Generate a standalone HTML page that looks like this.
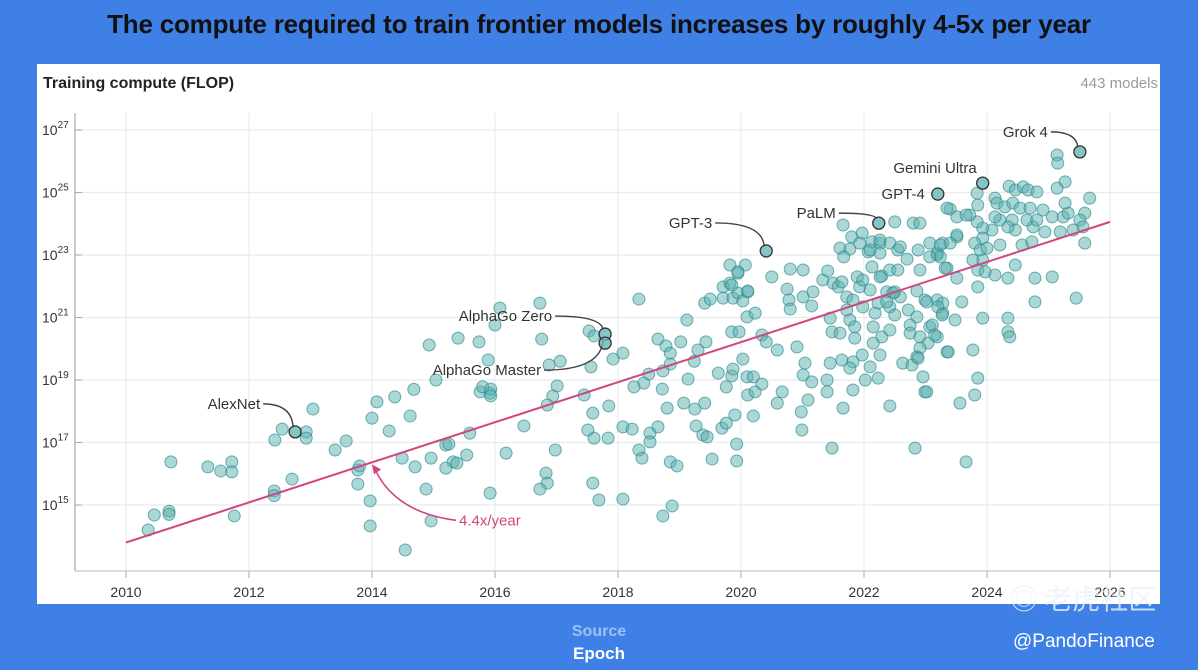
<!DOCTYPE html>
<html><head><meta charset="utf-8">
<style>
html,body{margin:0;padding:0;}
body{width:1198px;height:670px;background:#3f80e6;font-family:"Liberation Sans","Noto Sans CJK SC",sans-serif;position:relative;overflow:hidden;}
#title{position:absolute;left:0;width:1198px;top:9px;text-align:center;font-size:26px;font-weight:bold;color:#111;letter-spacing:-0.2px;}
#panel{position:absolute;left:37px;top:64px;width:1123px;height:540px;background:#fff;}
svg{position:absolute;left:0;top:0;}
.src{position:absolute;width:1198px;left:0;text-align:center;font-weight:bold;font-size:16px;}
</style></head>
<body>
<div id="title">The compute required to train frontier models increases by roughly 4-5x per year</div>
<div id="panel"></div>
<svg id="chart" width="1198" height="670"></svg>
<div class="src" style="top:623px;color:#9cc0f2;">Source</div>
<div class="src" style="top:644px;color:#fff;font-size:17px;">Epoch</div>
<div style="position:absolute;left:1010px;top:580px;font-size:28px;line-height:36px;color:rgba(235,240,250,0.8);font-family:'Noto Sans CJK SC',sans-serif;z-index:5;">◎ 老虎社区</div>
<div style="position:absolute;left:1013px;top:631px;font-size:19px;color:#fff;">@PandoFinance</div>
<script>
const yearTicks=[2010,2012,2014,2016,2018,2020,2022,2024,2026];
const flopTicks=[15,17,19,21,23,25,27];
const years=[2010.36,2010.46,2010.70,2010.70,2010.73,2011.33,2011.54,2011.72,2011.72,2011.76,2012.41,2012.41,2012.42,2012.54,2012.70,2012.75,2012.93,2012.93,2013.04,2013.40,2013.58,2013.77,2013.77,2013.80,2013.97,2013.97,2014.0,2014.08,2014.28,2014.37,2014.49,2014.54,2014.62,2014.68,2014.70,2014.88,2014.96,2014.96,2014.93,2015.04,2015.20,2015.32,2015.40,2015.54,2015.76,2015.92,2015.89,2015.92,2016.0,2016.08,2015.59,2015.25,2015.38,2015.20,2015.74,2015.80,2015.93,2015.93,2016.18,2016.47,2016.73,2016.76,2016.88,2017.06,2017.01,2016.94,2016.85,2016.98,2016.83,2016.85,2016.73,2017.59,2017.69,2018.08,2017.53,2017.61,2017.79,2017.79,2017.56,2017.92,2018.08,2017.45,2017.59,2017.85,2017.51,2017.61,2017.84,2018.08,2018.23,2018.34,2018.39,2018.52,2018.52,2018.65,2018.34,2018.65,2018.78,2018.85,2018.85,2018.73,2018.50,2018.42,2018.26,2018.72,2018.80,2018.85,2018.96,2018.73,2018.88,2019.02,2019.12,2019.07,2019.25,2019.41,2019.14,2019.24,2019.30,2019.43,2019.27,2019.38,2019.45,2019.53,2019.69,2019.76,2019.90,2019.93,2019.93,2020.20,2019.63,2019.76,2019.85,2019.87,2020.03,2020.10,2020.20,2020.11,2020.23,2020.34,2019.85,2019.97,2020.10,2020.23,2020.34,2019.41,2019.50,2019.71,2019.71,2019.82,2019.87,2019.95,2020.03,2020.11,2019.95,2019.82,2020.07,2019.95,2019.85,2020.11,2020.50,2020.41,2020.80,2021.01,2020.75,2020.78,2020.80,2021.01,2021.15,2021.17,2021.33,2021.41,2021.50,2021.58,2021.64,2021.72,2021.89,2021.93,2022.10,2021.66,2021.80,2021.97,2021.61,2021.77,2021.67,2021.93,2022.07,2022.13,2022.26,2022.26,2022.42,2022.55,2022.50,2022.80,2022.91,2022.24,2022.13,2022.29,2022.42,2022.55,2022.70,2022.88,2022.91,2023.07,2023.19,2023.28,2023.35,2023.40,2023.51,2022.86,2022.99,2023.19,2023.28,2023.28,2023.48,2022.37,2022.50,2022.59,2022.23,2022.42,2022.50,2022.18,2021.98,2021.82,2021.72,2021.45,2021.48,2021.61,2021.77,2021.85,2021.85,2022.15,2022.29,2022.15,2022.42,2022.72,2022.86,2022.75,2022.75,2022.91,2023.07,2023.19,2023.04,2022.91,2022.86,2022.63,2022.78,2022.96,2022.99,2023.35,2021.97,2022.26,2022.10,2021.82,2021.77,2021.64,2021.45,2021.40,2021.40,2021.82,2022.02,2022.23,2022.42,2021.66,2021.04,2021.01,2021.15,2021.09,2020.91,2020.59,2020.41,2020.67,2020.59,2020.98,2020.99,2021.48,2022.83,2025.51,2025.14,2025.15,2023.93,2023.20,2025.27,2025.14,2025.67,2024.36,2024.46,2024.59,2024.67,2024.81,2023.84,2023.85,2024.13,2024.16,2024.29,2024.42,2024.54,2024.70,2024.91,2025.06,2025.24,2025.32,2025.27,2025.59,2025.51,2025.56,2025.40,2025.19,2024.94,2024.75,2024.65,2024.81,2024.41,2024.46,2024.34,2024.21,2024.08,2024.13,2023.93,2023.93,2023.84,2023.72,2023.51,2023.35,2023.66,2023.51,2023.40,2023.24,2023.19,2023.24,2023.07,2022.59,2022.10,2022.26,2023.80,2023.89,2024.0,2023.93,2023.77,2023.85,2023.85,2023.97,2024.13,2024.34,2024.46,2024.21,2024.57,2024.73,2024.78,2025.06,2024.78,2025.45,2025.59,2023.51,2023.32,2023.59,2023.93,2024.34,2024.34,2024.37,2023.77,2023.37,2023.85,2023.80,2023.56,2023.02,2023.20,2023.27,2023.11,2023.15,2022.88,2023.02,2023.66,2022.47,2022.37,2022.26,2021.98];
const flops=[14.2,14.68,14.8,14.7,16.38,16.22,16.09,16.38,16.06,14.65,15.45,15.3,17.08,17.43,15.83,17.34,17.34,17.14,18.07,16.76,17.05,16.12,15.67,16.25,15.13,14.33,17.78,18.3,17.37,18.46,16.5,13.56,17.85,18.7,16.22,15.51,16.5,14.49,20.12,19.0,16.92,16.38,20.34,16.6,18.62,15.38,19.64,18.58,20.76,21.3,17.3,16.95,16.34,16.18,20.22,18.78,18.71,18.49,16.66,17.53,21.46,20.31,19.48,19.6,18.81,18.49,18.2,16.76,16.02,15.7,15.51,15.7,15.16,15.19,20.57,20.41,20.47,20.18,19.42,19.67,19.86,18.52,17.94,18.17,17.4,17.14,17.14,17.5,17.43,16.76,16.5,17.3,17.02,17.5,21.59,20.31,20.09,19.86,19.51,19.29,19.19,18.9,18.78,18.71,18.1,16.38,16.25,14.65,14.97,20.22,20.92,18.26,18.07,18.26,19.03,19.6,19.96,20.22,17.53,17.24,17.18,16.47,17.46,17.62,17.88,16.95,16.41,17.85,19.22,18.78,19.13,19.35,19.67,19.1,19.1,18.52,18.62,18.87,20.54,20.54,21.02,21.14,20.44,21.46,21.59,21.98,21.62,22.1,21.62,21.78,21.53,21.82,22.42,22.68,22.68,22.46,22.04,21.85,22.3,23.13,22.55,22.52,21.91,21.56,21.27,21.66,21.37,21.82,22.2,22.49,22.1,21.98,22.14,21.66,22.3,21.98,21.88,23.96,23.58,23.7,23.22,23.19,22.94,23.38,23.1,23.42,23.38,23.06,23.38,23.16,24.06,24.02,24.02,24.02,22.62,22.33,22.52,22.52,22.87,23.16,22.52,23.38,23.06,23.38,22.58,24.47,23.58,21.85,21.56,21.56,21.46,21.14,20.92,21.82,21.82,21.66,21.46,21.34,21.08,21.14,21.34,21.56,21.24,20.98,20.54,20.5,20.92,20.7,20.34,20.7,20.38,20.18,20.6,21.24,21.02,20.76,20.5,20.38,20.7,20.38,20.18,20.02,19.74,19.54,19.48,19.1,18.62,19.9,19.8,19.8,19.42,19.58,19.38,19.64,19.54,19.0,18.62,18.68,19.0,19.06,18.17,18.1,19.54,19.16,18.94,18.36,20.06,19.96,20.22,18.62,18.26,17.98,17.4,16.82,16.82,26.3,26.2,25.94,25.3,24.95,25.34,25.14,24.82,25.2,25.08,25.18,25.08,25.02,24.98,24.6,24.82,24.66,24.54,24.66,24.5,24.5,24.44,24.22,24.22,24.34,24.66,24.34,24.12,23.9,23.8,23.74,23.74,23.9,24.12,24.12,24.12,23.8,23.9,24.12,23.8,24.22,23.86,23.54,24.06,24.28,24.22,24.5,24.28,23.64,23.38,23.32,23.0,22.94,22.94,23.26,23.16,23.48,23.38,23.16,23.22,22.84,22.84,22.52,21.98,22.46,22.36,22.26,22.68,23.32,23.32,23.42,22.26,22.3,21.5,21.62,23.38,22.26,22.58,21.5,20.98,20.98,20.54,20.38,19.96,19.9,19.06,18.52,18.26,21.5,21.34,21.08,20.76,20.44,19.7,18.62,16.38,21.78,21.5,22.3,22.2];
const labelNames=["AlexNet","AlphaGo Zero","AlphaGo Master","GPT-3","PaLM","GPT-4","Gemini Ultra","Grok 4"];
const labelYears=[2012.75,2017.79,2017.79,2020.41,2022.24,2023.20,2023.93,2025.51];
const labelFlops=[17.34,20.47,20.18,23.13,24.02,24.95,25.3,26.3];
const trendYears=[2010,2026];
const trendFlops=[13.8,24.06];
const rateLabel="4.4x/year";

const X0=126,PX_PER_YEAR=61.5,Y0=130,PX_PER_DEC=31.25;
function xs(y){return X0+(y-2010)*PX_PER_YEAR;}
function ys(l){return Y0+(27-l)*PX_PER_DEC;}
const NS="http://www.w3.org/2000/svg";
const svg=document.getElementById('chart');
function mk(tag,attrs,parent){const e=document.createElementNS(NS,tag);for(const k in attrs)e.setAttribute(k,attrs[k]);(parent||svg).appendChild(e);return e;}

let t=mk('text',{x:43,y:88,'font-size':16,'font-weight':'bold',fill:'#222'});
t.textContent='Training compute (FLOP)';


t=mk('text',{x:1158,y:88,'font-size':15,fill:'#9a9a9a','text-anchor':'end'});
t.textContent='443 models';



yearTicks.forEach(v=>{
  const g=mk('line',{x1:xs(v),x2:xs(v),y1:113,y2:571,stroke:'#e8ecef','stroke-width':1.2});
  
  
  const tk=mk('line',{x1:xs(v),x2:xs(v),y1:571,y2:578,stroke:'#aaa'});
  
  
  const lb=mk('text',{x:xs(v),y:597,'font-size':14,fill:'#333','text-anchor':'middle'});
  lb.textContent=v;
  
  
});
flopTicks.forEach(v=>{
  const g=mk('line',{x1:75,x2:1160,y1:ys(v),y2:ys(v),stroke:'#e8ecef','stroke-width':1.2});
  
  
  const tk=mk('line',{x1:75,x2:82,y1:ys(v),y2:ys(v),stroke:'#aaa'});
  
  
  const lb=mk('text',{x:42,y:ys(v)+5,'font-size':14,fill:'#333'});
  lb.textContent='10';
  const sp=mk('tspan',{dy:-7,'font-size':10},lb);
  sp.textContent=v;
  
  
});
let ax=mk('line',{x1:75,x2:75,y1:113,y2:571,stroke:'#999'});


ax=mk('line',{x1:75,x2:1160,y1:571,y2:571,stroke:'#bbb'});



for(let i=0;i<years.length;i++){
  const c=mk('circle',{cx:xs(years[i]),cy:ys(flops[i]),r:6,fill:'rgba(90,175,175,0.5)',stroke:'rgba(40,135,135,0.65)','stroke-width':1});
  
  
}

const tl=mk('line',{x1:xs(trendYears[0]),y1:ys(trendFlops[0]),x2:xs(trendYears[1]),y2:ys(trendFlops[1]),stroke:'#d1467f','stroke-width':2});


const ay=2014,al=trendFlops[0]+(ay-2010)*(trendFlops[1]-trendFlops[0])/16;
const ax0=xs(ay),ay0=ys(al);
const ap=mk('path',{d:`M456 ${ay0+58} Q395 ${ay0+50} ${ax0+3} ${ay0+7}`,fill:'none',stroke:'#d1467f','stroke-width':1.6});


const ah=mk('path',{d:`M${ax0} ${ay0+2} L${ax0+9} ${ay0+7} L${ax0+2} ${ay0+12} Z`,fill:'#d1467f'});


const rl=mk('text',{x:459,y:ay0+63,'font-size':15,fill:'#d1467f'});
rl.textContent=rateLabel;



const offs=[[-35,-28,'end'],[-53,-18,'end'],[-64,27,'end'],[-54,-28,'end'],[-43,-10,'end'],[-13,0,'end'],[-6,-15,'end'],[-32,-20,'end']];
for(let i=0;i<labelNames.length;i++){
  const px=xs(labelYears[i]),py=ys(labelFlops[i]);
  const [dx,dy]=offs[i];
  const tx=px+dx,ty=py+dy;
  if(i!==5&&i!==6){
    const p=mk('path',{d:`M${tx+3} ${ty} Q${px-3} ${ty} ${px-2} ${py-4}`,fill:'none',stroke:'#444','stroke-width':1.4});
    
    
  }
  const c=mk('circle',{cx:px,cy:py,r:6,fill:'rgba(120,190,190,0.7)',stroke:'#333','stroke-width':1.3});
  
  
  const lt=mk('text',{x:i===6?px-6:(i===5?px-13:tx),y:(i===6?py-10:ty+5),'font-size':15,fill:'#333','text-anchor':'end'});
  lt.textContent=labelNames[i];
  
  
}
</script>
</body></html>
